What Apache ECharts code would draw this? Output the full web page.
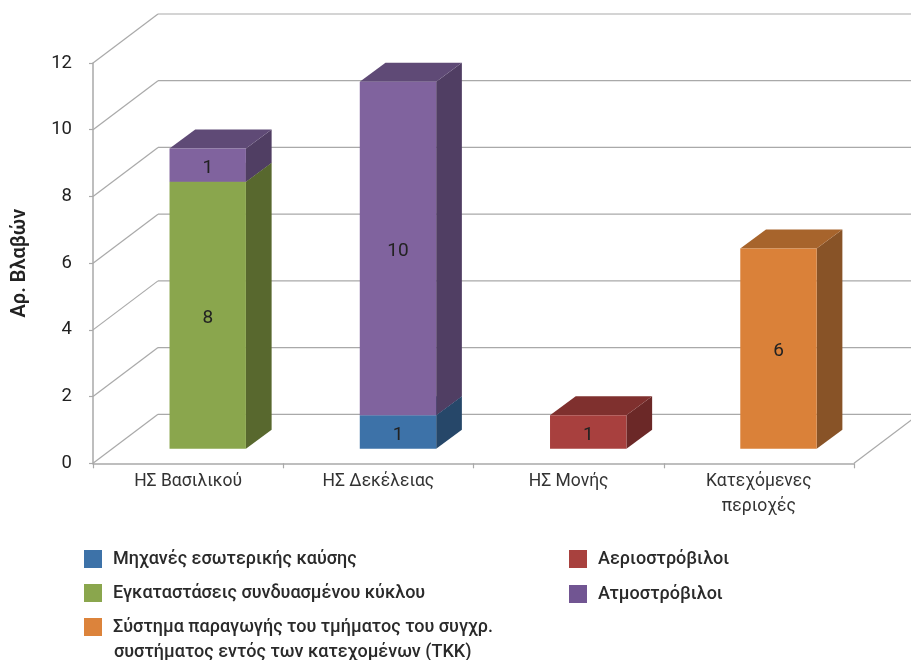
<!DOCTYPE html>
<html>
<head>
<meta charset="utf-8">
<style>html,body{margin:0;padding:0;background:#fff}#c{width:911px;height:660px}</style>
<script src="https://cdn.jsdelivr.net/npm/echarts@6/dist/echarts.min.js"></script>
</head>
<body>
<div id="c"></div>
<script>
const categories = ['ΗΣ Βασιλικού', 'ΗΣ Δεκέλειας', 'ΗΣ Μονής', 'Κατεχόμενες\nπεριοχές'];
const engines = [0, 1, 0, 0];
const combined = [8, 0, 0, 0];
const occupied = [0, 0, 0, 6];
const gasTurbines = [0, 0, 1, 0];
const steamTurbines = [1, 10, 0, 0];
const yTicks = [0, 2, 4, 6, 8, 10, 12];
const seriesNames = [
  'Μηχανές εσωτερικής καύσης',
  'Εγκαταστάσεις συνδυασμένου κύκλου',
  'Σύστημα παραγωγής του τμήματος του συγχρ.',
  'Αεριοστρόβιλοι',
  'Ατμοστρόβιλοι'
];
const occupiedNameLine2 = 'συστήματος εντός των κατεχομένων (ΤΚΚ)';
const seriesValues = [engines, combined, occupied, gasTurbines, steamTurbines];

const faces = [
  {legend: '#3d72a8', front: '#3d72a8', side: '#264769', top: '#2f5a86'},
  {legend: '#8aa64d', front: '#8aa64d', side: '#58682e', top: '#6c823a'},
  {legend: '#dc833b', front: '#da8139', side: '#885327', top: '#a7642c'},
  {legend: '#a8413e', front: '#a8403e', side: '#6b2827', top: '#7f302e'},
  {legend: '#715592', front: '#80639e', side: '#503e63', top: '#5f4a76'}
];
const GRID = '#a9a9a9';
const FONT = 'Roboto, sans-serif';
const WALL = {dx: 65, dy: -49};
const BAR = {offX: 19.6, offY: -14.6, half: 38.2, dx: 25.7, dy: -19};

function poly(points, color) {
  return {type: 'polygon', shape: {points}, style: {fill: color}, silent: true};
}

function wallItem(params, api) {
  const c = params.coordSys;
  const y = api.coord([0, api.value(0)])[1];
  const x0 = c.x, x1 = c.x + c.width;
  const lines = [[x0, y, x0 + WALL.dx, y + WALL.dy], [x0 + WALL.dx, y + WALL.dy, x1 + WALL.dx, y + WALL.dy]];
  if (api.value(0) === 0) lines.push([x1, y, x1 + WALL.dx, y + WALL.dy]);
  return {
    type: 'group',
    children: lines.map(l => ({
      type: 'line', silent: true,
      shape: {x1: l[0], y1: l[1], x2: l[2], y2: l[3]},
      style: {stroke: GRID, lineWidth: 1.2}
    }))
  };
}

function barItem(k) {
  return function (params, api) {
    const f = faces[k];
    const a = api.coord([api.value(0), api.value(1)]);
    const b = api.coord([api.value(0), api.value(1) + api.value(2)]);
    const l = a[0] + BAR.offX - BAR.half, r = a[0] + BAR.offX + BAR.half;
    const yb = a[1] + BAR.offY, yt = b[1] + BAR.offY;
    return {
      type: 'group',
      children: [
        poly([[r, yb], [r + BAR.dx, yb + BAR.dy], [r + BAR.dx, yt + BAR.dy], [r, yt]], f.side),
        poly([[l, yt], [r, yt], [r + BAR.dx, yt + BAR.dy], [l + BAR.dx, yt + BAR.dy]], f.top),
        poly([[l, yb], [r, yb], [r, yt], [l, yt]], f.front),
        {
          type: 'text', silent: true,
          style: {
            x: (l + r) / 2, y: (yb + yt) / 2 + 3, text: String(api.value(2)),
            fill: '#222', font: '19px ' + FONT, align: 'center', verticalAlign: 'middle'
          }
        }
      ]
    };
  };
}

const series = [{
  type: 'custom', name: 'walls', silent: true, z: 1,
  coordinateSystem: 'cartesian2d',
  data: yTicks.map(v => [v]),
  encode: {y: 0},
  renderItem: wallItem
}];
seriesValues.forEach((vals, k) => {
  const rows = [];
  vals.forEach((v, i) => {
    if (v > 0) {
      let base = 0;
      for (let s = 0; s < k; s++) base += seriesValues[s][i];
      rows.push([i, base, v]);
    }
  });
  series.push({
    type: 'custom', name: seriesNames[k], z: 3 + k,
    coordinateSystem: 'cartesian2d',
    itemStyle: {color: faces[k].legend},
    data: rows,
    encode: {x: 0, y: 1},
    renderItem: barItem(k)
  });
});

const legendSlots = [
  {i: 0, left: 84, top: 547},
  {i: 1, left: 84, top: 581},
  {i: 2, left: 84, top: 615},
  {i: 3, left: 569, top: 547},
  {i: 4, left: 569, top: 582}
];

const chart = echarts.init(document.getElementById('c'), null, {renderer: 'canvas'});
chart.setOption({
  animation: false,
  backgroundColor: '#fff',
  grid: {left: 93, right: 57, top: 63, bottom: 196.7, outerBoundsMode: 'none', containLabel: false},
  legend: legendSlots.map(s => ({
    left: s.left, top: s.top, orient: 'vertical', padding: 0,
    itemWidth: 18, itemHeight: 18, itemGap: 12, icon: 'rect',
    selectedMode: false, data: [seriesNames[s.i]],
    textStyle: {
      fontFamily: FONT, fontSize: 18, fontWeight: 500, color: '#2a2a2a', lineHeight: 18,
      padding: [6, 0, 0, 6]
    }
  })),
  graphic: [{
    type: 'text', left: 114, top: 643, silent: true,
    style: {text: occupiedNameLine2, font: '500 18px ' + FONT, fill: '#2a2a2a'}
  }],
  xAxis: {
    type: 'category', data: categories,
    axisLine: {lineStyle: {color: GRID, width: 1.5}},
    axisTick: {show: true, length: 5, alignWithLabel: false, lineStyle: {color: GRID, width: 1.2}},
    axisLabel: {fontFamily: FONT, fontSize: 17.5, color: '#333', margin: 6, lineHeight: 25, interval: 0}
  },
  yAxis: {
    type: 'value', min: 0, max: 12, interval: 2,
    name: 'Αρ. Βλαβών', nameLocation: 'middle', nameGap: 63,
    nameTextStyle: {fontFamily: FONT, fontSize: 20, fontWeight: 600, color: '#222'},
    axisLine: {show: true, lineStyle: {color: GRID, width: 1.5}},
    axisTick: {show: true, length: 4, lineStyle: {color: GRID, width: 1.2}},
    splitLine: {show: false},
    axisLabel: {fontFamily: FONT, fontSize: 18.5, color: '#222', margin: 21, padding: [6, 0, 0, 0]}
  },
  series
});
</script>
</body>
</html>
